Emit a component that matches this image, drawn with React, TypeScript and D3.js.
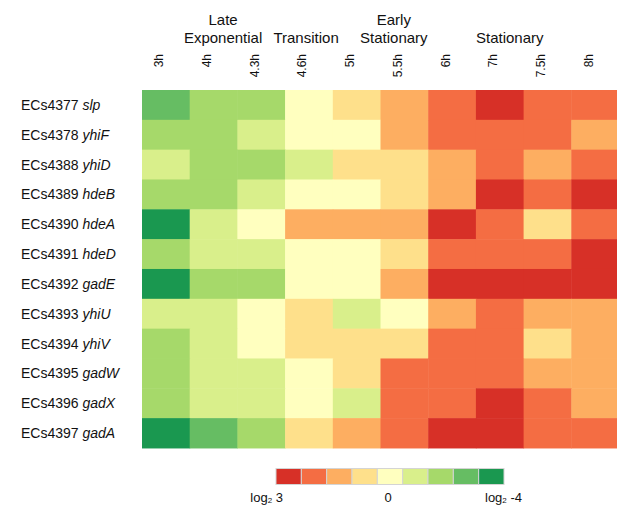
import React from "react";
import * as d3 from "d3";

// time points (columns)
const timePoints = ["3h", "4h", "4.3h", "4.6h", "5h", "5.5h", "6h", "7h", "7.5h", "8h"];

// gene rows: locus tag + gene name
const locusTags = [
  "ECs4377", "ECs4378", "ECs4388", "ECs4389", "ECs4390", "ECs4391",
  "ECs4392", "ECs4393", "ECs4394", "ECs4395", "ECs4396", "ECs4397",
];
const geneNames = [
  "slp", "yhiF", "yhiD", "hdeB", "hdeA", "hdeD",
  "gadE", "yhiU", "yhiV", "gadW", "gadX", "gadA",
];

// expression level per cell, 4 = strongest red ... -4 = strongest green
const slp = [-3, -2, -2, 0, 1, 2, 3, 4, 3, 3];
const yhiF = [-2, -2, -1, 0, 0, 2, 3, 3, 3, 2];
const yhiD = [-1, -2, -2, -1, 1, 1, 2, 3, 2, 3];
const hdeB = [-2, -2, -1, 0, 0, 1, 2, 4, 3, 4];
const hdeA = [-4, -1, 0, 2, 2, 2, 4, 3, 1, 3];
const hdeD = [-2, -1, -1, 0, 0, 1, 3, 3, 3, 4];
const gadE = [-4, -2, -2, 0, 0, 2, 4, 4, 4, 4];
const yhiU = [-1, -1, 0, 1, -1, 0, 2, 3, 2, 2];
const yhiV = [-2, -1, 0, 1, 1, 1, 3, 3, 1, 2];
const gadW = [-2, -1, -1, 0, 1, 3, 3, 3, 2, 2];
const gadX = [-2, -1, -1, 0, -1, 3, 3, 4, 3, 2];
const gadA = [-4, -3, -2, 1, 2, 3, 4, 4, 3, 3];
const levels = [slp, yhiF, yhiD, hdeB, hdeA, hdeD, gadE, yhiU, yhiV, gadW, gadX, gadA];

// growth phase headers, placed at a fractional column position
const phaseLines = [["Late", "Exponential"], ["Transition"], ["Early", "Stationary"], ["Stationary"]];
const phasePos = [1.7, 3.44, 5.28, 7.71];

// legend
const legendLabels = ["log2 3", "0", "log2 -4"];

// RdYlGn, green (low) -> red (high)
const palette = ["#1a9850", "#66bd63", "#a6d96a", "#d9ef8b", "#ffffbf", "#fee08b", "#fdae61", "#f46d43", "#d73027"];

const W = 617;
const H = 506;
const FONT = "'Liberation Sans', Arial, Helvetica, sans-serif";

export default function App() {
  const left = 142;
  const top = 90;
  const cellW = 47.7;
  const cellH = 29.83;

  const x = d3
    .scaleBand<string>()
    .domain(timePoints)
    .range([left, left + cellW * timePoints.length])
    .padding(0);
  const y = d3
    .scaleBand<string>()
    .domain(locusTags)
    .range([top, top + cellH * locusTags.length])
    .padding(0);
  const color = d3.scaleQuantize<string>().domain([-4.5, 4.5]).range(palette);

  const bw = x.bandwidth();
  const bh = y.bandwidth();

  // legend goes red -> green, left to right
  const legendColors = palette.slice().reverse();
  const lx = d3
    .scaleBand<number>()
    .domain(d3.range(legendColors.length))
    .range([276, 504]);

  return (
    <svg
      width={W}
      height={H}
      style={{ position: "absolute", left: 0, top: 0, background: "#fff" }}
      fontFamily={FONT}
    >
      {/* phase headers */}
      {phaseLines.map((lines, i) => {
        const cx = left + phasePos[i] * bw;
        return (
          <text key={"ph" + i} x={cx} textAnchor="middle" fontSize={15} fill="#111">
            {lines.map((l, j) => (
              <tspan key={j} x={cx} y={42.5 - (lines.length - 1 - j) * 17.5}>
                {l}
              </tspan>
            ))}
          </text>
        );
      })}

      {/* column labels */}
      {timePoints.map((t) => {
        const cx = (x(t) as number) + bw / 2 - 2.5;
        return (
          <text
            key={t}
            x={cx}
            y={54}
            transform={`rotate(-90, ${cx}, 54)`}
            textAnchor="end"
            fontSize={12}
            fill="#111"
          >
            {t}
          </text>
        );
      })}

      {/* cells */}
      {levels.map((row, r) =>
        row.map((v, c) => (
          <rect
            key={r + "-" + c}
            x={x(timePoints[c])}
            y={y(locusTags[r])}
            width={bw + 0.5}
            height={bh + 0.5}
            fill={color(v)}
          />
        ))
      )}

      {/* row labels */}
      {locusTags.map((tag, i) => (
        <text
          key={tag}
          x={21}
          y={(y(tag) as number) + bh / 2 + 5}
          fontSize={14}
          fill="#111"
        >
          {tag}{" "}
          <tspan fontStyle="italic">{geneNames[i]}</tspan>
        </text>
      ))}

      {/* legend */}
      {legendColors.map((c, i) => (
        <rect
          key={"lg" + i}
          x={lx(i)}
          y={468.5}
          width={lx.bandwidth()}
          height={16}
          fill={c}
          stroke="#d4d4d4"
          strokeWidth={1}
        />
      ))}
      <text x={283} y={502} textAnchor="end" fontSize={13} fill="#111">
        log<tspan fontSize={8} dy={1}>2</tspan>
        <tspan dy={-1}>{" " + legendLabels[0].split(" ")[1]}</tspan>
      </text>
      <text x={388} y={502} textAnchor="middle" fontSize={13} fill="#111">
        {legendLabels[1]}
      </text>
      <text x={485} y={502} textAnchor="start" fontSize={13} fill="#111">
        log<tspan fontSize={8} dy={1}>2</tspan>
        <tspan dy={-1}>{" " + legendLabels[2].split(" ")[1]}</tspan>
      </text>
    </svg>
  );
}
